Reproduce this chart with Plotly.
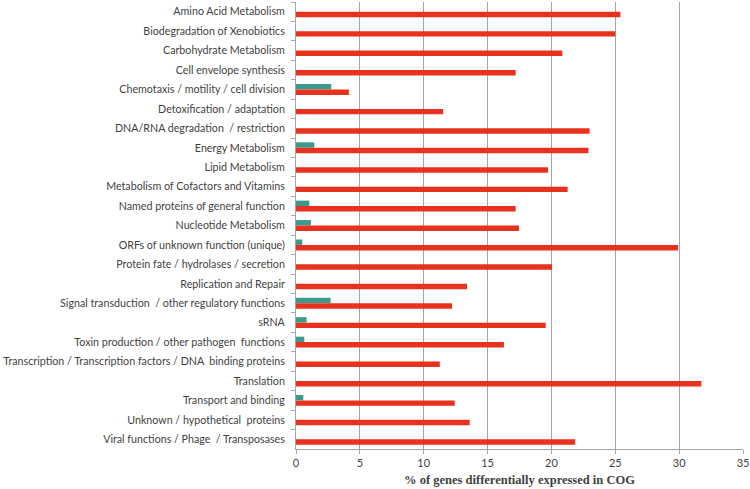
import plotly.graph_objects as go

categories = [
    "Amino Acid Metabolism",
    "Biodegradation of Xenobiotics",
    "Carbohydrate Metabolism",
    "Cell envelope synthesis",
    "Chemotaxis / motility / cell division",
    "Detoxification / adaptation",
    "DNA/RNA degradation  / restriction",
    "Energy Metabolism",
    "Lipid Metabolism",
    "Metabolism of Cofactors and Vitamins",
    "Named proteins of general function",
    "Nucleotide Metabolism",
    "ORFs of unknown function (unique)",
    "Protein fate / hydrolases / secretion",
    "Replication and Repair",
    "Signal transduction  / other regulatory functions",
    "sRNA",
    "Toxin production / other pathogen  functions",
    "Transcription / Transcription factors / DNA  binding proteins",
    "Translation",
    "Transport and binding",
    "Unknown / hypothetical  proteins",
    "Viral functions / Phage  / Transposases",
]

red_values = [25.4, 25.0, 20.85, 17.2, 4.14, 11.52, 22.99, 22.9, 19.73, 21.27,
              17.2, 17.46, 29.92, 20.05, 13.39, 12.22, 19.55, 16.28, 11.26,
              31.74, 12.43, 13.6, 21.86]
teal_values = [0, 0, 0, 0, 2.76, 0, 0, 1.43, 0, 0,
               1.04, 1.17, 0.49, 0, 0, 2.71, 0.83, 0.65, 0,
               0, 0.57, 0, 0]

x_ticks = [0, 5, 10, 15, 20, 25, 30, 35]

fig = go.Figure()
fig.add_trace(go.Bar(y=categories, x=teal_values, orientation="h",
                     marker=dict(color="#3B9A8B", line=dict(width=0)),
                     name="teal"))
fig.add_trace(go.Bar(y=categories, x=red_values, orientation="h",
                     marker=dict(color="#E8321E", line=dict(width=0)),
                     name="red"))

fig.update_layout(
    width=750, height=489,
    margin=dict(l=296, r=7, t=2, b=40),
    barmode="group",
    bargap=0.44,
    bargroupgap=0.0,
    showlegend=False,
    plot_bgcolor="white",
    paper_bgcolor="white",
    font=dict(family="Lato", size=10.7, color="#3F3F3F"),
)
fig.update_xaxes(
    range=[0, 35], tickvals=x_ticks, showgrid=True, gridcolor="#A6A6A6",
    gridwidth=1, showline=True, linecolor="#A6A6A6", ticks="outside",
    ticklen=4, tickcolor="#A6A6A6", zeroline=False, automargin=False,
    tickfont=dict(family="Lato", size=11, color="#3F3F3F"),
    title=dict(text="<b>% of genes differentially expressed in COG</b>",
               font=dict(family="Liberation Serif", size=12.5, color="#3F3F3F"),
               standoff=7),
)
fig.update_yaxes(
    autorange="reversed", showline=True, linecolor="#A6A6A6",
    ticks="outside", ticklen=4, tickcolor="#A6A6A6", tickson="boundaries",
    showgrid=False, ticklabelstandoff=8, automargin=False,
)

# page body has a default 8px margin; drop it so the figure fills the window
fig.write_html("out.html", config={"displayModeBar": False},
               post_script="document.body.style.margin='0';")
